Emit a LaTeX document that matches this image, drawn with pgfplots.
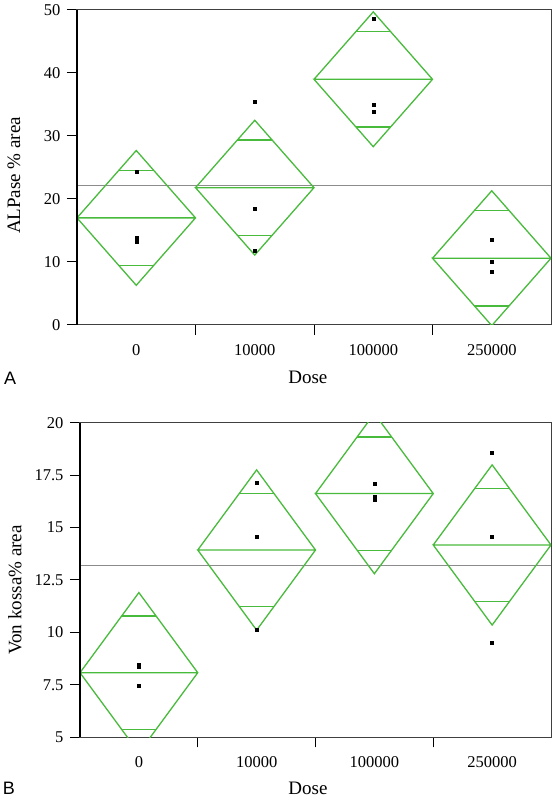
\documentclass[border=0pt]{standalone}
\usepackage{fontspec}
\setmainfont{Liberation Serif}
\newfontfamily\sansf{Liberation Sans}
\usepackage{pgfplots}
\pgfplotsset{compat=1.18}
\definecolor{jmpgreen}{RGB}{72,186,60}
\definecolor{gmean}{RGB}{140,140,140}
\pgfplotsset{
  dstyle/.style={
    scale only axis, xmin=-0.5, xmax=3.5,
    axis line style={draw=black!75, line width=1pt},
    tick align=outside, major tick length=10pt,
    xtick pos=bottom, ytick pos=left,
    tick style={draw=black, line width=1pt},
    xtick={0.5,1.5,2.5}, xticklabels={},
    extra x ticks={0,1,2,3},
    extra x tick labels={0,10000,100000,250000},
    extra x tick style={tick style={draw=none}},
    xticklabel style={font=\fontsize{16.5}{16.5}\selectfont, yshift=-6pt},
    yticklabel style={font=\fontsize{16.5}{16.5}\selectfont, xshift=-3pt},
    /pgf/number format/assume math mode=true,
    xlabel={Dose},
    clip mode=individual,
  },
  dia/.style={jmpgreen, line width=1.3pt, no marks},
  gm/.style={gmean, line width=1.2pt, no marks},
  pts/.style={only marks, mark=square*, mark size=1.5pt, black},
}
\begin{document}
\begin{tikzpicture}[x=1pt,y=1pt]
\useasboundingbox (0,0) rectangle (555,800);
% ---------- Panel A ----------
\begin{axis}[dstyle, at={(77pt,475pt)}, anchor=south west,
  width=474pt, height=315pt, ymin=0, ymax=50,
  ytick={0,10,20,30,40,50}, ylabel={ALPase \% area},
  every axis x label/.style={at={(axis description cs:0.487,-0.165)}, anchor=center, font=\fontsize{19}{19}\selectfont},
  every axis y label/.style={at={(axis description cs:-0.133,0.475)}, rotate=90, anchor=center, font=\fontsize{19}{19}\selectfont}]
\addplot[gm] coordinates {(-0.5,22.1) (3.5,22.1)};
% diamonds
\addplot[dia] coordinates {(-0.5,17.0) (0,27.7) (0.5,17.0) (0,6.3) (-0.5,17.0) (0.5,17.0)};
\addplot[dia] coordinates {(0.5,21.8) (1,32.5) (1.5,21.8) (1,11.1) (0.5,21.8) (1.5,21.8)};
\addplot[dia] coordinates {(1.5,39.0) (2,49.7) (2.5,39.0) (2,28.3) (1.5,39.0) (2.5,39.0)};
\addplot[dia] coordinates {(2.5,10.6) (3,21.3) (3.5,10.6) (3,-0.1) (2.5,10.6) (3.5,10.6)};
% overlap marks
\addplot[dia] coordinates {(-0.146,24.57) (0.146,24.57)};
\addplot[dia] coordinates {(-0.146,9.43) (0.146,9.43)};
\addplot[dia] coordinates {(0.854,29.37) (1.146,29.37)};
\addplot[dia] coordinates {(0.854,14.23) (1.146,14.23)};
\addplot[dia] coordinates {(1.854,46.57) (2.146,46.57)};
\addplot[dia] coordinates {(1.854,31.43) (2.146,31.43)};
\addplot[dia] coordinates {(2.854,18.17) (3.146,18.17)};
\addplot[dia] coordinates {(2.854,3.03) (3.146,3.03)};
% observations
\addplot[pts] coordinates {(0,24.4) (0,13.9) (0,13.2)
  (1,35.4) (1,18.4) (1,11.8)
  (2,48.6) (2,35.0) (2,33.8)
  (3,13.5) (3,10.1) (3,8.5)};
\draw[black, line width=2pt] (rel axis cs:0,0) -- (rel axis cs:0,1);
\node[font=\sansf\fontsize{18}{18}\selectfont, anchor=center] at (axis description cs:-0.141,-0.168) {A};
\end{axis}
% ---------- Panel B ----------
\begin{axis}[dstyle, at={(80pt,62.7pt)}, anchor=south west,
  width=471pt, height=314.6pt, ymin=5, ymax=20,
  ytick={5,7.5,10,12.5,15,17.5,20}, ylabel={Von kossa\% area},
  every axis x label/.style={at={(axis description cs:0.484,-0.161)}, anchor=center, font=\fontsize{19}{19}\selectfont},
  every axis y label/.style={at={(axis description cs:-0.138,0.468)}, rotate=90, anchor=center, font=\fontsize{19}{19}\selectfont}]
\addplot[gm] coordinates {(-0.5,13.18) (3.5,13.18)};
\addplot[dia] coordinates {(-0.5,8.08) (0,11.90) (0.5,8.08) (0,4.26) (-0.5,8.08) (0.5,8.08)};
\addplot[dia] coordinates {(0.5,13.93) (1,17.75) (1.5,13.93) (1,10.11) (0.5,13.93) (1.5,13.93)};
\addplot[dia] coordinates {(1.5,16.62) (2,20.44) (2.5,16.62) (2,12.80) (1.5,16.62) (2.5,16.62)};
\addplot[dia] coordinates {(2.5,14.17) (3,17.99) (3.5,14.17) (3,10.35) (2.5,14.17) (3.5,14.17)};
\addplot[dia] coordinates {(-0.146,10.78) (0.146,10.78)};
\addplot[dia] coordinates {(-0.146,5.38) (0.146,5.38)};
\addplot[dia] coordinates {(0.854,16.63) (1.146,16.63)};
\addplot[dia] coordinates {(0.854,11.23) (1.146,11.23)};
\addplot[dia] coordinates {(1.854,19.32) (2.146,19.32)};
\addplot[dia] coordinates {(1.854,13.92) (2.146,13.92)};
\addplot[dia] coordinates {(2.854,16.87) (3.146,16.87)};
\addplot[dia] coordinates {(2.854,11.47) (3.146,11.47)};
\addplot[pts] coordinates {(0,8.48) (0,8.37) (0,7.45)
  (1,17.14) (1,14.57) (1,10.12)
  (2,17.07) (2,16.47) (2,16.35)
  (3,18.57) (3,14.57) (3,9.53)};
\draw[black, line width=2pt] (rel axis cs:0,0) -- (rel axis cs:0,1);
\node[font=\sansf\fontsize{18}{18}\selectfont, anchor=center] at (axis description cs:-0.151,-0.163) {B};
\end{axis}
\end{tikzpicture}
\end{document}
